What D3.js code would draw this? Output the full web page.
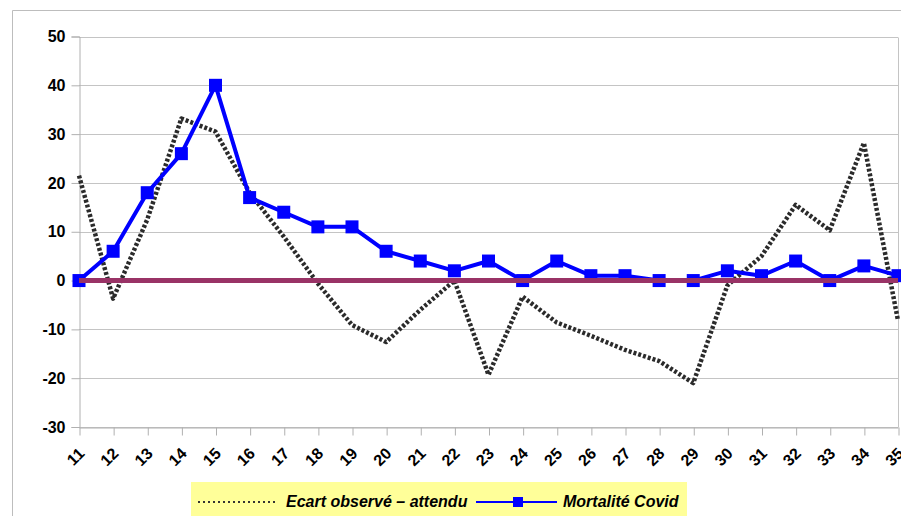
<!DOCTYPE html>
<html lang="fr">
<head>
<meta charset="utf-8">
<script src="https://cdn.jsdelivr.net/npm/d3@7"></script>
<style>
  html, body { margin: 0; padding: 0; background: #fff; }
  svg { display: block; font-family: "Liberation Sans", Arial, sans-serif; }
</style>
</head>
<body>
<svg id="chart" width="901" height="516"></svg>
<script>
// Semaines (numéro de semaine)
const weeks = [11, 12, 13, 14, 15, 16, 17, 18, 19, 20, 21, 22, 23, 24, 25, 26, 27, 28, 29, 30, 31, 32, 33, 34, 35];

// Écart entre mortalité observée et attendue
const ecart = [21.5, -3.7, 12.5, 33.2, 30.5, 18, 9, -0.6, -9.1, -12.6, -6, 0, -19.3, -3.3, -8.6, -11.3, -14.2, -16.5, -21, -1, 5, 15.5, 10.3, 28.2, -8.2];

// Mortalité Covid
const covid = [0, 6, 18, 26, 40, 17, 14, 11, 11, 6, 4, 2, 4, 0, 4, 1, 1, 0, 0, 2, 1, 4, 0, 3, 1];

// Ligne de référence à zéro
const reference = weeks.map(() => 0);

const yTicks = [-30, -20, -10, 0, 10, 20, 30, 40, 50];

const legendLabels = ["Ecart observé \u2013 attendu", "Mortalité Covid"];

const svg = d3.select("#chart");

const plot = { left: 79, right: 898, top: 36.5, bottom: 427 };

const x = d3.scalePoint().domain(weeks).range([plot.left, plot.right]);
const y = d3.scaleLinear().domain([-30, 50]).range([plot.bottom, plot.top]);

// Cadre extérieur du graphique
svg.append("path")
  .attr("d", "M12.5,516 V10.5 H901")
  .attr("fill", "none")
  .attr("stroke", "#bdbdbd")
  .attr("stroke-width", 1);

// Quadrillage horizontal
svg.append("g")
  .selectAll("line")
  .data(yTicks)
  .join("line")
  .attr("x1", plot.left)
  .attr("x2", plot.right)
  .attr("y1", d => Math.round(y(d)) + 0.5)
  .attr("y2", d => Math.round(y(d)) + 0.5)
  .attr("stroke", "#c4c4c4")
  .attr("stroke-width", 1);

// Bord droit de la zone de tracé
svg.append("line")
  .attr("x1", plot.right + 0.5).attr("x2", plot.right + 0.5)
  .attr("y1", Math.round(plot.top) + 0.5).attr("y2", plot.bottom + 0.5)
  .attr("stroke", "#c4c4c4");

// Axe vertical
const yAxis = svg.append("g")
  .attr("transform", `translate(${plot.left + 0.5},0)`)
  .call(d3.axisLeft(y).tickValues(yTicks).tickSize(8).tickPadding(6).tickFormat(d => String(d)));
yAxis.selectAll("path, line").attr("stroke", "#b0b0b0");
yAxis.selectAll("text")
  .attr("fill", "#000")
  .attr("font-size", 16)
  .attr("font-weight", "bold")
  .attr("font-family", "Liberation Sans, Arial, sans-serif");

// Axe horizontal
const xAxis = svg.append("g")
  .attr("transform", `translate(0,${plot.bottom + 0.5})`)
  .call(d3.axisBottom(x).tickSize(8).tickSizeOuter(0));
xAxis.select(".domain").attr("stroke", "#b0b0b0");
xAxis.selectAll(".tick line").attr("stroke", "#b0b0b0").attr("transform", "translate(0.5,0)");
xAxis.selectAll(".tick text")
  .attr("fill", "#000")
  .attr("font-size", 16)
  .attr("font-weight", "bold")
  .attr("font-family", "Liberation Sans, Arial, sans-serif")
  .attr("text-anchor", "end")
  .attr("dy", null)
  .attr("y", 0)
  .attr("transform", "translate(6,27) rotate(-45)");

const line = d3.line().x((d, i) => x(weeks[i])).y(d => y(d));

// Série : écart observé – attendu (pointillés)
svg.append("path")
  .datum(ecart)
  .attr("d", line)
  .attr("fill", "none")
  .attr("stroke", "#2b2b2b")
  .attr("stroke-width", 4.5)
  .attr("stroke-dasharray", "3,2")
  .attr("stroke-linejoin", "round");

// Série : mortalité Covid
svg.append("path")
  .datum(covid)
  .attr("d", line)
  .attr("fill", "none")
  .attr("stroke", "#0000ff")
  .attr("stroke-width", 4)
  .attr("stroke-linejoin", "round");

const sq = 13;
svg.append("g")
  .selectAll("rect")
  .data(covid)
  .join("rect")
  .attr("x", (d, i) => x(weeks[i]) - sq / 2)
  .attr("y", d => y(d) - sq / 2)
  .attr("width", sq)
  .attr("height", sq)
  .attr("fill", "#0000ff");

// Ligne de référence (zéro)
svg.append("path")
  .datum(reference)
  .attr("d", line)
  .attr("fill", "none")
  .attr("stroke", "#993366")
  .attr("stroke-width", 5);

// Légende
const legend = svg.append("g");
legend.append("rect")
  .attr("x", 191).attr("y", 482)
  .attr("width", 496).attr("height", 40)
  .attr("fill", "#ffff99");

legend.append("line")
  .attr("x1", 198).attr("x2", 278)
  .attr("y1", 502).attr("y2", 502)
  .attr("stroke", "#333333")
  .attr("stroke-width", 2)
  .attr("stroke-dasharray", "2,3");

legend.append("text")
  .attr("x", 286).attr("y", 507)
  .attr("font-size", 16)
  .attr("font-weight", "bold")
  .attr("font-style", "italic")
  .attr("fill", "#000")
  .text(legendLabels[0]);

legend.append("line")
  .attr("x1", 476).attr("x2", 557)
  .attr("y1", 502).attr("y2", 502)
  .attr("stroke", "#0000ff")
  .attr("stroke-width", 2);

legend.append("rect")
  .attr("x", 513).attr("y", 497)
  .attr("width", 10).attr("height", 10)
  .attr("fill", "#0000ff");

legend.append("text")
  .attr("x", 563).attr("y", 507)
  .attr("font-size", 16)
  .attr("font-weight", "bold")
  .attr("font-style", "italic")
  .attr("fill", "#000")
  .text(legendLabels[1]);
</script>
</body>
</html>
